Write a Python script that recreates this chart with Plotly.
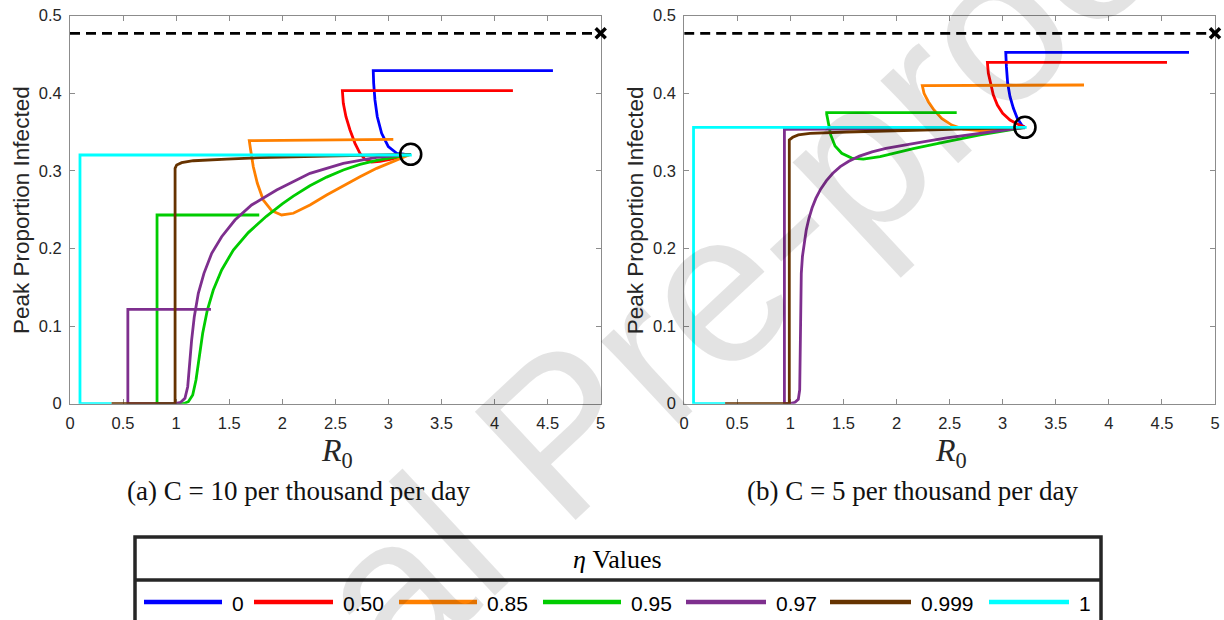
import plotly.graph_objects as go

# ---------------- data ----------------
ETA_LABELS = ["0", "0.50", "0.85", "0.95", "0.97", "0.999", "1"]

# Panel (a): C = 10 per thousand per day
A_ETA0_R0 = [4.55, 2.857, 2.861, 2.873, 2.895, 2.936, 2.999, 3.078, 3.15, 3.21]
A_ETA0_PK = [0.4292, 0.4292, 0.4129, 0.3914, 0.3698, 0.3484, 0.3312, 0.3227, 0.3215, 0.3214]
A_ETA50_R0 = [4.173, 2.566, 2.575, 2.60, 2.638, 2.685, 2.732, 2.779, 2.842, 2.92, 3.015, 3.109, 3.21]
A_ETA50_PK = [0.4034, 0.4034, 0.3871, 0.3699, 0.3527, 0.3355, 0.3227, 0.3149, 0.3115, 0.3123, 0.3149, 0.3183, 0.3214]
A_ETA85_R0 = [3.046, 1.689, 1.702, 1.727, 1.765, 1.821, 1.90, 1.994, 2.104, 2.261, 2.418, 2.575, 2.732, 2.889, 3.046, 3.172, 3.21]
A_ETA85_PK = [0.3405, 0.339, 0.3269, 0.3054, 0.284, 0.2625, 0.2487, 0.2432, 0.2454, 0.2561, 0.2689, 0.2809, 0.2925, 0.3033, 0.3119, 0.3183, 0.3214]
A_ETA95_R0 = [1.783, 0.82, 0.82, 1.068, 1.115, 1.156, 1.187, 1.218, 1.25, 1.294, 1.35, 1.429, 1.539, 1.68, 1.85, 2.0, 2.104, 2.26, 2.418, 2.575, 2.732, 2.889, 3.046, 3.21]
A_ETA95_PK = [0.2432, 0.2432, 0.0, 0.0, 0.0026, 0.0112, 0.0305, 0.0606, 0.0907, 0.1207, 0.1465, 0.1723, 0.1981, 0.2205, 0.2415, 0.2575, 0.2675, 0.2808, 0.292, 0.3012, 0.3085, 0.3137, 0.3175, 0.3214]
A_ETA97_R0 = [1.328, 0.545, 0.545, 0.989, 1.043, 1.083, 1.109, 1.124, 1.146, 1.171, 1.209, 1.262, 1.335, 1.429, 1.554, 1.711, 1.947, 2.261, 2.575, 2.889, 3.14, 3.21]
A_ETA97_PK = [0.1216, 0.1216, 0.0, 0.0, 0.0018, 0.007, 0.0219, 0.0477, 0.0821, 0.1121, 0.1423, 0.168, 0.1938, 0.2152, 0.2367, 0.2561, 0.2754, 0.2969, 0.3098, 0.3175, 0.3205, 0.3214]
A_ETA999_R0 = [0.39, 0.99, 0.99, 1.005, 1.052, 1.162, 1.476, 1.79, 2.418, 3.046, 3.21]
A_ETA999_PK = [0.0, 0.0, 0.3033, 0.3076, 0.3106, 0.3131, 0.3153, 0.317, 0.3192, 0.3205, 0.3214]
A_ETA1_R0 = [0.39, 0.094, 0.094, 3.22]
A_ETA1_PK = [0.0, 0.0, 0.3205, 0.3205]
A_START_R0 = [3.21]
A_START_PK = [0.3214]

# Panel (b): C = 5 per thousand per day
B_ETA0_R0 = [4.755, 3.029, 3.035, 3.047, 3.069, 3.101, 3.138, 3.179, 3.21]
B_ETA0_PK = [0.4528, 0.4528, 0.4343, 0.4129, 0.3956, 0.3806, 0.3677, 0.3591, 0.3562]
B_ETA50_R0 = [4.548, 2.856, 2.865, 2.887, 2.912, 2.95, 3.0, 3.069, 3.138, 3.21]
B_ETA50_PK = [0.4399, 0.4399, 0.4258, 0.4107, 0.3978, 0.3849, 0.3742, 0.3656, 0.3604, 0.3562]
B_ETA85_R0 = [3.766, 2.243, 2.259, 2.30, 2.353, 2.426, 2.52, 2.629, 2.787, 2.975, 3.132, 3.21]
B_ETA85_PK = [0.4107, 0.4099, 0.40, 0.3892, 0.3785, 0.3677, 0.3591, 0.354, 0.3518, 0.3527, 0.3549, 0.3562]
B_ETA95_R0 = [2.567, 1.342, 1.342, 1.358, 1.38, 1.421, 1.484, 1.578, 1.687, 1.845, 2.158, 2.473, 2.787, 3.10, 3.21]
B_ETA95_PK = [0.375, 0.375, 0.3733, 0.3613, 0.3463, 0.3321, 0.3227, 0.3166, 0.3153, 0.3183, 0.3286, 0.3376, 0.3463, 0.3536, 0.3562]
B_ETA97_R0 = [3.21, 0.944, 0.944, 0.997, 1.044, 1.075, 1.088, 1.091, 1.094, 1.103, 1.114, 1.13, 1.15, 1.175, 1.205, 1.24, 1.285, 1.34, 1.40, 1.47, 1.55, 1.65, 1.77, 1.9, 2.05, 2.25, 2.473, 2.7, 2.944, 3.21]
B_ETA97_PK = [0.3555, 0.3536, 0.0, 0.0, 0.0018, 0.0057, 0.0177, 0.0692, 0.125, 0.168, 0.19, 0.208, 0.224, 0.239, 0.2525, 0.2645, 0.2765, 0.2875, 0.297, 0.3055, 0.3125, 0.319, 0.3245, 0.329, 0.333, 0.3375, 0.3425, 0.347, 0.3514, 0.3562]
B_ETA999_R0 = [0.385, 0.99, 0.99, 1.022, 1.075, 1.185, 1.531, 2.002, 2.629, 3.10, 3.21]
B_ETA999_PK = [0.0, 0.0, 0.3398, 0.3433, 0.3463, 0.3484, 0.3501, 0.3518, 0.3536, 0.3549, 0.3562]
B_ETA1_R0 = [0.385, 0.088, 0.088, 3.226]
B_ETA1_PK = [0.0, 0.0, 0.3562, 0.3562]
B_START_R0 = [3.21]
B_START_PK = [0.3562]

# Upper bound (dashed) line
BOUND_R0 = [0, 5]
BOUND_PK = [0.4773, 0.4773]
BOUND_MARK_R0 = [5]
BOUND_MARK_PK = [0.4773]

X_TICKS = [0, 0.5, 1, 1.5, 2, 2.5, 3, 3.5, 4, 4.5, 5]
X_TICK_TEXT = ["0", "0.5", "1", "1.5", "2", "2.5", "3", "3.5", "4", "4.5", "5"]
Y_TICKS = [0, 0.1, 0.2, 0.3, 0.4, 0.5]
Y_TICK_TEXT = ["0", "0.1", "0.2", "0.3", "0.4", "0.5"]

# ---------------- style ----------------
COLORS = ["#0000FF", "#FF0000", "#FF8000", "#00CC00", "#7E2F8E", "#663300", "#00FFFF"]
W, H = 1224, 620


def fx(p):
    return p / W


def fy(p):
    return 1 - p / H


PANELS = [
    ("x", "y", [(A_ETA0_R0, A_ETA0_PK), (A_ETA50_R0, A_ETA50_PK), (A_ETA85_R0, A_ETA85_PK),
                (A_ETA95_R0, A_ETA95_PK), (A_ETA97_R0, A_ETA97_PK), (A_ETA999_R0, A_ETA999_PK),
                (A_ETA1_R0, A_ETA1_PK)], (A_START_R0, A_START_PK)),
    ("x2", "y2", [(B_ETA0_R0, B_ETA0_PK), (B_ETA50_R0, B_ETA50_PK), (B_ETA85_R0, B_ETA85_PK),
                  (B_ETA95_R0, B_ETA95_PK), (B_ETA97_R0, B_ETA97_PK), (B_ETA999_R0, B_ETA999_PK),
                  (B_ETA1_R0, B_ETA1_PK)], (B_START_R0, B_START_PK)),
]

fig = go.Figure()
for xa, ya, curves, start in PANELS:
    for k, (xs, ys) in enumerate(curves):
        fig.add_trace(go.Scatter(x=xs, y=ys, mode="lines", name=ETA_LABELS[k],
                                 line=dict(color=COLORS[k], width=2.8),
                                 xaxis=xa, yaxis=ya, cliponaxis=False,
                                 showlegend=False, hoverinfo="skip"))
    fig.add_trace(go.Scatter(x=BOUND_R0, y=BOUND_PK, mode="lines",
                             line=dict(color="black", width=2.8, dash="10px,6px"),
                             xaxis=xa, yaxis=ya, cliponaxis=False, showlegend=False, hoverinfo="skip"))
    fig.add_trace(go.Scatter(x=BOUND_MARK_R0, y=BOUND_MARK_PK, mode="markers",
                             marker=dict(symbol="x-thin", size=10, line=dict(color="black", width=3.5)),
                             xaxis=xa, yaxis=ya, cliponaxis=False, showlegend=False, hoverinfo="skip"))
    fig.add_trace(go.Scatter(x=start[0], y=start[1], mode="markers",
                             marker=dict(symbol="circle-open", size=21, color="black",
                                         line=dict(color="black", width=2.6)),
                             xaxis=xa, yaxis=ya, cliponaxis=False, showlegend=False, hoverinfo="skip"))

tickfont = dict(family="Liberation Sans, Arial, sans-serif", size=16.5, color="#262626")
axis_common = dict(showgrid=False, zeroline=False, showline=True, linecolor="#8c8c8c", linewidth=1,
                   mirror="ticks", ticks="inside", ticklen=5, tickwidth=1, tickcolor="#8c8c8c",
                   tickfont=tickfont, layer="below traces", fixedrange=True, automargin=False)

y_dom = [fy(403.7), fy(15.7)]
fig.update_layout(
    width=W, height=H, margin=dict(l=0, r=0, t=0, b=0, autoexpand=False),
    paper_bgcolor="white", plot_bgcolor="white", showlegend=False,
    xaxis=dict(domain=[fx(70), fx(600.7)], range=[0, 5], anchor="y", tickvals=X_TICKS,
               ticktext=X_TICK_TEXT, ticklabelstandoff=4, **axis_common),
    yaxis=dict(domain=y_dom, range=[0, 0.5], anchor="x", tickvals=Y_TICKS,
               ticktext=Y_TICK_TEXT, ticklabelstandoff=4, **axis_common),
    xaxis2=dict(domain=[fx(684.2), fx(1215)], range=[0, 5], anchor="y2", tickvals=X_TICKS,
                ticktext=X_TICK_TEXT, ticklabelstandoff=4, **axis_common),
    yaxis2=dict(domain=y_dom, range=[0, 0.5], anchor="x2", tickvals=Y_TICKS,
                ticktext=Y_TICK_TEXT, ticklabelstandoff=4, **axis_common),
)

serif = "Liberation Serif, Times New Roman, serif"
sans = "Liberation Sans, Arial, sans-serif"
ann = []
# watermark
ann.append(dict(text="Journal Pre-proof", x=fx(560), y=fy(432), xref="paper", yref="paper",
                showarrow=False, textangle=-43, xanchor="center", yanchor="middle",
                font=dict(family=sans, size=215, color="rgba(0,0,0,0.11)")))
for off, cap in [(0, "(a) C = 10 per thousand per day"), (614.2, "(b) C = 5 per thousand per day")]:
    ann.append(dict(text="Peak Proportion Infected", x=fx(22 + off), y=fy(210), xref="paper", yref="paper",
                    showarrow=False, textangle=-90, xanchor="center", yanchor="middle",
                    font=dict(family=sans, size=22.5, color="#262626")))
    ann.append(dict(text="<i>R</i><sub>0</sub>", x=fx(337 + off), y=fy(452), xref="paper", yref="paper",
                    showarrow=False, xanchor="center", yanchor="middle",
                    font=dict(family=serif, size=32, color="#262626")))
    ann.append(dict(text=cap, x=fx(298 + off), y=fy(491), xref="paper", yref="paper",
                    showarrow=False, xanchor="center", yanchor="middle",
                    font=dict(family=serif, size=27, color="#111111")))

# legend (drawn manually)
shapes = []
shapes.append(dict(type="rect", xref="paper", yref="paper", x0=fx(135), x1=fx(1101), y0=fy(537), y1=fy(630),
                   line=dict(color="#262626", width=3.5), fillcolor="rgba(0,0,0,0)"))
shapes.append(dict(type="line", xref="paper", yref="paper", x0=fx(135), x1=fx(1101), y0=fy(580), y1=fy(580),
                   line=dict(color="#262626", width=3.5)))
ann.append(dict(text="<i>η</i> Values", x=fx(617), y=fy(559), xref="paper", yref="paper",
                showarrow=False, xanchor="center", yanchor="middle",
                font=dict(family=serif, size=26, color="black")))
LEG_LINE_X = [(144, 222), (254, 333), (399, 477), (543, 621), (686, 766), (830, 911), (989, 1069)]
LEG_TEXT_X = [230, 341, 485, 629, 774, 919, 1077]
for k in range(7):
    x0, x1 = LEG_LINE_X[k]
    shapes.append(dict(type="line", xref="paper", yref="paper", x0=fx(x0), x1=fx(x1), y0=fy(602), y1=fy(602),
                       line=dict(color=COLORS[k], width=4.5)))
    ann.append(dict(text=ETA_LABELS[k], x=fx(LEG_TEXT_X[k]), y=fy(603), xref="paper", yref="paper",
                    showarrow=False, xanchor="left", yanchor="middle",
                    font=dict(family=sans, size=21, color="black")))

fig.update_layout(annotations=ann, shapes=shapes)
fig.write_html("out.html")
